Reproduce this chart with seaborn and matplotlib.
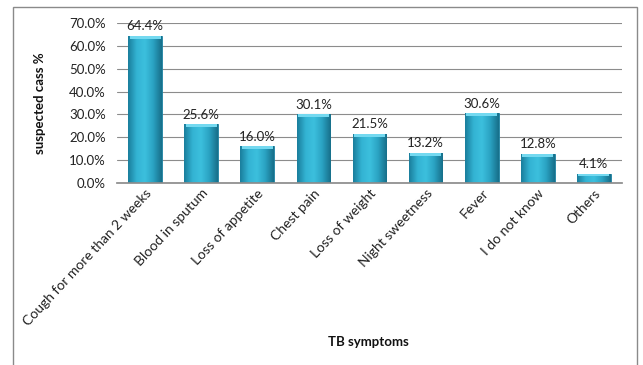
import matplotlib
matplotlib.use("Agg")
import matplotlib.pyplot as plt
import seaborn as sns
import numpy as np
import pandas as pd
from matplotlib.patches import Rectangle
from matplotlib.colors import LinearSegmentedColormap

symptoms = ["Cough for more than 2 weeks", "Blood in sputum", "Loss of appetite",
            "Chest pain", "Loss of weight", "Night sweetness", "Fever",
            "I do not know", "Others"]
percent = [64.4, 25.6, 16.0, 30.1, 21.5, 13.2, 30.6, 12.8, 4.1]
yticks = [0, 10, 20, 30, 40, 50, 60, 70]

df = pd.DataFrame({"symptom": symptoms, "percent": percent})

sns.set_theme(style="white")
plt.rcParams["font.family"] = ["Lato", "DejaVu Sans"]

W, H = 643, 365
fig = plt.figure(figsize=(W / 100, H / 100), dpi=100)
fig.patch.set_facecolor("white")
ax = fig.add_axes([117 / W, 1 - 183 / H, (622 - 117) / W, (183 - 23) / H])

sns.barplot(data=df, x="symptom", y="percent", ax=ax, color="#2fa5c6",
            width=0.6, edgecolor="#1d7f9e", linewidth=0.6, saturation=1)

# horizontal shading and a lighter cap on each bar
shade = LinearSegmentedColormap.from_list(
    "shade", ["#1a7e9c", "#33b3d3", "#3cc0de", "#2aa2c2", "#176f8a"])
grad = np.linspace(0, 1, 64).reshape(1, -1)
for p in list(ax.patches):
    x0, w, h = p.get_x(), p.get_width(), p.get_height()
    im = ax.imshow(grad, cmap=shade, aspect="auto", extent=(x0, x0 + w, 0, h),
                   zorder=2.5, interpolation="bicubic")
    im.set_clip_path(p)
    cap = min(1.3, h * 0.3)
    ax.add_patch(Rectangle((x0 + w * 0.04, h - cap), w * 0.92, cap,
                           facecolor="#74d9f0", edgecolor="none", zorder=3))

for i, v in enumerate(percent):
    ax.text(i, v + 1.5, f"{v:.1f}%", ha="center", va="bottom", fontsize=9.5,
            color="#222222")

ax.set_ylim(0, 70)
ax.set_yticks(yticks)
ax.set_yticklabels([f"{t:.1f}%" for t in yticks], fontsize=9.5, color="#222222")
ax.set_xlim(-0.5, len(symptoms) - 0.5)
ax.grid(axis="y", color="#8c8c8c", linewidth=0.8)
ax.set_axisbelow(True)
for s in ["top", "right", "left"]:
    ax.spines[s].set_visible(False)
ax.spines["bottom"].set_color("#8c8c8c")
ax.tick_params(axis="y", length=0, pad=8)
ax.tick_params(axis="x", length=0, pad=3)
ax.set_xticks(range(len(symptoms)))
ax.set_xticklabels(symptoms, rotation=47, ha="right", rotation_mode="anchor",
                   fontsize=10, color="#222222")

ax.set_xlabel("")
ax.set_ylabel("")
fig.text(40 / W, 1 - 103 / H, "suspected cass %", rotation=90, ha="center",
         va="center", fontsize=9.5, fontweight="bold", color="#111111")
fig.text(368 / W, 1 - 342 / H, "TB symptoms", ha="center", va="center",
         fontsize=9.5, fontweight="bold", color="#111111")

# outer chart frame
fig.patches.append(Rectangle((13 / W, -0.1), (637 - 13) / W, 1 - 7 / H + 0.1,
                             transform=fig.transFigure, fill=False,
                             edgecolor="#8a8a8a", linewidth=1.0))

fig.savefig("out.png", dpi=100)
